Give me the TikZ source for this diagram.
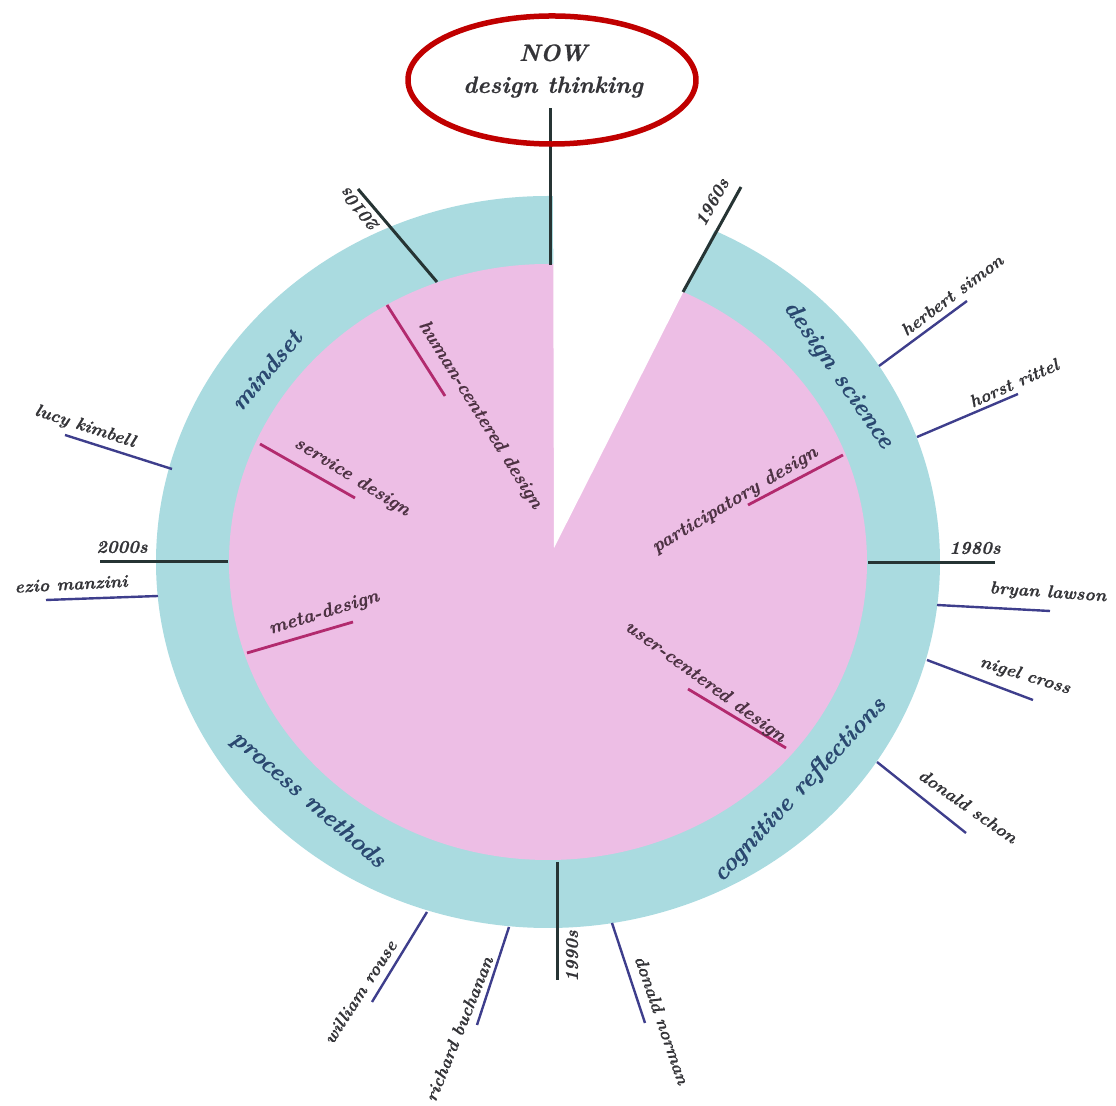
\documentclass[tikz,border=0pt]{standalone}
\usepackage{fontspec}
\newfontfamily\chartfont{lmroman10-bolditalic.otf}[FakeBold=0.7]
\definecolor{ringteal}{RGB}{170,219,224}
\definecolor{fieldpink}{RGB}{237,190,229}
\definecolor{eraline}{RGB}{38,52,52}
\definecolor{nameline}{RGB}{62,62,140}
\definecolor{fieldline}{RGB}{178,42,110}
\definecolor{ringtext}{RGB}{42,72,112}
\definecolor{labeltext}{RGB}{52,52,56}
\definecolor{nowred}{RGB}{192,0,0}

\begin{document}
\begin{tikzpicture}[
  x=0.5pt, y=-0.5pt,
  eratick/.style={draw=eraline, line width=1.5pt},
  nametick/.style={draw=nameline, line width=1.2pt},
  fieldtick/.style={draw=fieldline, line width=1.4pt},
  eralabel/.style={text=labeltext, inner sep=0pt,
                   font={\fontsize{9}{10}\chartfont}},
  namelabel/.style={text=labeltext, inner sep=0pt,
                    font={\fontsize{8.8}{10}\chartfont}},
  fieldlabel/.style={text=labeltext!80!fieldline, inner sep=0pt,
                     font={\fontsize{9.5}{11}\chartfont}},
  ringlabel/.style={text=ringtext, inner sep=0pt,
                    font={\fontsize{12.2}{14}\chartfont}},
  nowlabel/.style={text=labeltext, align=center, inner sep=0pt,
                   font={\fontsize{11.8}{16}\chartfont}},
  nowring/.style={draw=nowred, line width=2.75pt, line cap=round}
]
  \useasboundingbox (0,0) rectangle (1116,1106);

  \fill[ringteal] (548,562) ellipse [x radius=392, y radius=366];
  \fill[fieldpink] (548,562) ellipse [x radius=319, y radius=298];
  \coordinate (apex) at (554,548);
  \fill[white] (apex) -- (553,150) -- (755,150) -- cycle;

  \foreach \xa/\ya/\xb/\yb/\lx/\ly/\ang/\txt [count=\i] in {
      437/282/358/189/360/210/130/2010s,
      683/292/741/187/712/202/61/1960s,
      868/563/995/563/975/548/0/1980s,
      557/862/557/980/572/956/90/1990s,
      228/562/100/562/122/547/0/2000s} {
    \coordinate (era\i-in) at (\xa,\ya);
    \coordinate (era\i-out) at (\xb,\yb);
    \draw[eratick] (era\i-in) -- (era\i-out);
    \node[eralabel, rotate=\ang] (eralbl\i) at (\lx,\ly) {\txt};
  }

  \foreach \xa/\ya/\xb/\yb/\lx/\ly/\ang/\txt [count=\i] in {
      879/366/967/301/952/295/37/herbert simon,
      917/437/1018/394/1014/383/24/horst rittel,
      937/605/1050/611/1048/593/-4/bryan lawson,
      927/660/1033/700/1025/676/-17/nigel cross,
      877/762/966/833/968/806/-35/donald schon,
      612/923/645/1023/662/1020/-71/donald norman,
      509/927/477/1025/459/1029/68/richard buchanan,
      427/912/372/1002/360/992/57/william rouse,
      158/596/46/600/71/584/3/ezio manzini,
      172/469/65/435/85/427/-18/lucy kimbell} {
    \coordinate (who\i-in) at (\xa,\ya);
    \coordinate (who\i-out) at (\xb,\yb);
    \draw[nametick] (who\i-in) -- (who\i-out);
    \node[namelabel, rotate=\ang] (wholbl\i) at (\lx,\ly) {\txt};
  }

  \foreach \xa/\ya/\xb/\yb/\lx/\ly/\ang/\txt [count=\i] in {
      387/305/445/396/480/415/-58/human-centered design,
      260/444/355/498/352/477/-32/service design,
      247/653/353/622/324/613/17/meta-design,
      843/455/748/505/735/500/31/participatory design,
      786/748/688/689/705/682/-36/user-centered design} {
    \coordinate (fld\i-in) at (\xa,\ya);
    \coordinate (fld\i-out) at (\xb,\yb);
    \draw[fieldtick] (fld\i-in) -- (fld\i-out);
    \node[fieldlabel, rotate=\ang] (fldlbl\i) at (\lx,\ly) {\txt};
  }

  \node[ringlabel, rotate=50] (mindset) at (266,370) {mindset};
  \node[ringlabel, rotate=-55] (science) at (838,375) {design science};
  \node[ringlabel, rotate=-41] (process) at (308,800) {process methods};
  \node[ringlabel, rotate=47] (cognitive) at (800,790) {cognitive reflections};

  \coordinate (now-in) at (550,265);
  \coordinate (now-out) at (550,108);
  \draw[eratick] (now-in) -- (now-out);
  \coordinate (nowc) at (552,80);
  \draw[nowring] (nowc) ++(-60:144 and 64)
    arc[start angle=-60, end angle=300, x radius=144, y radius=64];
  \node[nowlabel] (now) at (553,71) {NOW\\design thinking};
\end{tikzpicture}
\end{document}
